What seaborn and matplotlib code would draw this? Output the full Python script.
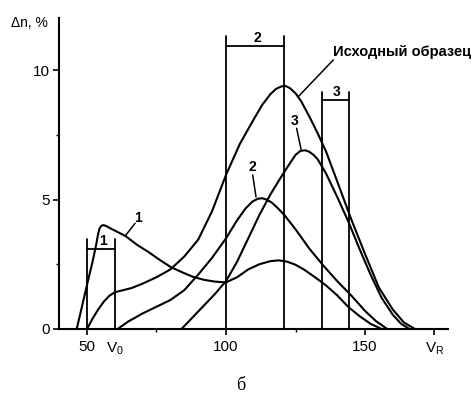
import matplotlib
matplotlib.use("Agg")
import matplotlib.pyplot as plt
import pandas as pd
import seaborn as sns

# ---- data ----
x_orig = [50, 52, 54, 56, 58, 60, 63, 66, 70, 75, 80, 85, 90, 95, 100, 105, 110, 113, 116, 118, 120, 121.5,
          123, 125, 127, 130, 133, 136, 140, 145, 150, 155, 160, 164, 168]
y_orig = [0, 0.4, 0.75, 1.05, 1.28, 1.42, 1.5, 1.58, 1.75, 2.0, 2.3, 2.8, 3.45, 4.55, 5.95, 7.15, 8.1, 8.65, 9.07, 9.27, 9.37, 9.38,
          9.3, 9.1, 8.8, 8.2, 7.55, 6.85, 5.7, 4.25, 2.9, 1.6, 0.75, 0.25, 0]

x_c1 = [46.3, 48, 50, 52, 53.3, 53.9, 54.5, 55.2, 56, 57, 58, 60, 64, 68, 72, 76, 80, 84, 88, 92, 96, 100,
        104, 108, 112, 116, 119, 122, 125, 128, 132, 136, 140, 144, 148, 152, 156]
y_c1 = [0, 0.78, 1.7, 2.6, 3.25, 3.62, 3.88, 3.99, 4.01, 3.97, 3.91, 3.8, 3.58, 3.25, 2.98, 2.68, 2.4, 2.2, 2.02, 1.9, 1.83, 1.8,
        2.0, 2.3, 2.5, 2.62, 2.65, 2.6, 2.48, 2.3, 2.0, 1.68, 1.3, 0.85, 0.5, 0.2, 0]

x_c2 = [61, 65, 70, 75, 80, 85, 90, 95, 100, 104, 107, 109.5, 111.5, 113, 114.5, 116.5, 118.5, 121, 125, 130, 135, 140,
        145, 150, 154, 158]
y_c2 = [0, 0.3, 0.6, 0.86, 1.12, 1.5, 2.1, 2.75, 3.5, 4.2, 4.65, 4.92, 5.03, 5.05, 5.0, 4.88, 4.68, 4.4, 3.85, 3.1, 2.45, 1.85,
        1.3, 0.7, 0.3, 0]

x_c3 = [84, 88, 92, 96, 100, 104, 108, 112, 116, 120, 123, 125, 126.8, 128.5, 130, 131.5, 133, 136, 140, 144, 148, 152,
        156, 160, 163, 166]
y_c3 = [0, 0.45, 0.9, 1.35, 1.85, 2.6, 3.5, 4.4, 5.2, 5.9, 6.4, 6.72, 6.88, 6.9, 6.84, 6.72, 6.55, 6.0, 5.1, 4.15, 3.1, 2.1,
        1.2, 0.55, 0.2, 0]

curve_names = ["Исходный образец", "1", "2", "3"]

# fraction brackets: (left, right, line top, bar height, label)
frac_left = [50, 100, 134.5]
frac_right = [60, 121, 144.2]
frac_top = [3.47, 11.3, 9.15]
frac_bar = [3.09, 10.93, 8.84]
frac_labels = ["1", "2", "3"]

xtick_pos = [50, 60, 100, 150, 175]
xtick_lab = ["50", "V$_{\\mathregular{0}}$", "100", "150", "V$_{\\mathregular{R}}$"]
ytick_pos = [0, 5, 10]
ytick_lab = ["0", "5", "10"]

frames = []
for name, xs, ys in zip(curve_names, [x_orig, x_c1, x_c2, x_c3], [y_orig, y_c1, y_c2, y_c3]):
    frames.append(pd.DataFrame({"V": xs, "dn": ys, "curve": name}))
df = pd.concat(frames, ignore_index=True)

sns.set_theme(style="ticks")
plt.rcParams["font.family"] = ["Liberation Sans", "DejaVu Sans"]
plt.rcParams["mathtext.default"] = "regular"
plt.rcParams["text.color"] = "black"
plt.rcParams["axes.edgecolor"] = "black"
plt.rcParams["xtick.color"] = "black"
plt.rcParams["ytick.color"] = "black"

fig = plt.figure(figsize=(4.72, 3.93), dpi=100)
ax = fig.add_axes([59.2 / 472, 64 / 393, 389.2 / 472, 310.8 / 393])

sns.lineplot(data=df, x="V", y="dn", units="curve", estimator=None, sort=False,
             color="black", linewidth=1.5, ax=ax, legend=False)

# brackets
for l, r, t, b, lab in zip(frac_left, frac_right, frac_top, frac_bar, frac_labels):
    ax.plot([l, l], [0, t], color="black", lw=1.3)
    ax.plot([r, r], [0, t], color="black", lw=1.3)
    ax.plot([l, r], [b, b], color="black", lw=1.3)
    ax.text((l + r) / 2 + 0.6, b + 0.05, lab, ha="center", va="bottom",
            fontsize=10, fontweight="bold")

# curve labels with leader lines
ax.plot([63.7, 67.3], [3.59, 4.08], color="black", lw=1.1)
ax.text(68.2, 4.3, "1", ha="center", va="center", fontsize=10, fontweight="bold")
ax.plot([110.8, 109.6], [5.1, 5.95], color="black", lw=1.1)
ax.text(109.4, 6.25, "2", ha="center", va="center", fontsize=10, fontweight="bold")
ax.plot([127.0, 125.4], [6.94, 7.75], color="black", lw=1.1)
ax.text(124.6, 8.05, "3", ha="center", va="center", fontsize=10, fontweight="bold")
ax.plot([126.0, 138.6], [8.97, 10.39], color="black", lw=1.1)
ax.text(138.5, 10.7, "Исходный образец", ha="left", va="center", fontsize=10.5,
        fontweight="bold", clip_on=False)

ax.set_xlim(40, 180)
ax.set_ylim(0, 12)
ax.set_xticks(xtick_pos)
ax.set_xticklabels(xtick_lab)
ax.set_xticks([75, 125], minor=True)
ax.set_yticks(ytick_pos)
ax.set_yticklabels(ytick_lab)
ax.set_yticks([2.5, 7.5], minor=True)
ax.xaxis.get_major_ticks()[1].tick1line.set_visible(False)
ax.tick_params(axis="both", which="major", direction="out", length=4, width=1.2, labelsize=11, pad=3)
ax.tick_params(axis="both", which="minor", direction="out", length=2.5, width=1.0)
ax.tick_params(axis="x", which="major", pad=4)
ax.set_xlabel("")
ax.set_ylabel("")
sns.despine(ax=ax)
for s in ["left", "bottom"]:
    ax.spines[s].set_linewidth(1.5)
    ax.spines[s].set_color("black")

fig.text(29.5 / 472, 1 - 23 / 393, "Δn, %", ha="center", va="center", fontsize=10)
fig.text(240.8 / 472, 1 - 385 / 393, "б", ha="center", va="center", fontsize=13,
         family=["Liberation Serif", "DejaVu Serif"])

fig.savefig("out.png", dpi=100)
